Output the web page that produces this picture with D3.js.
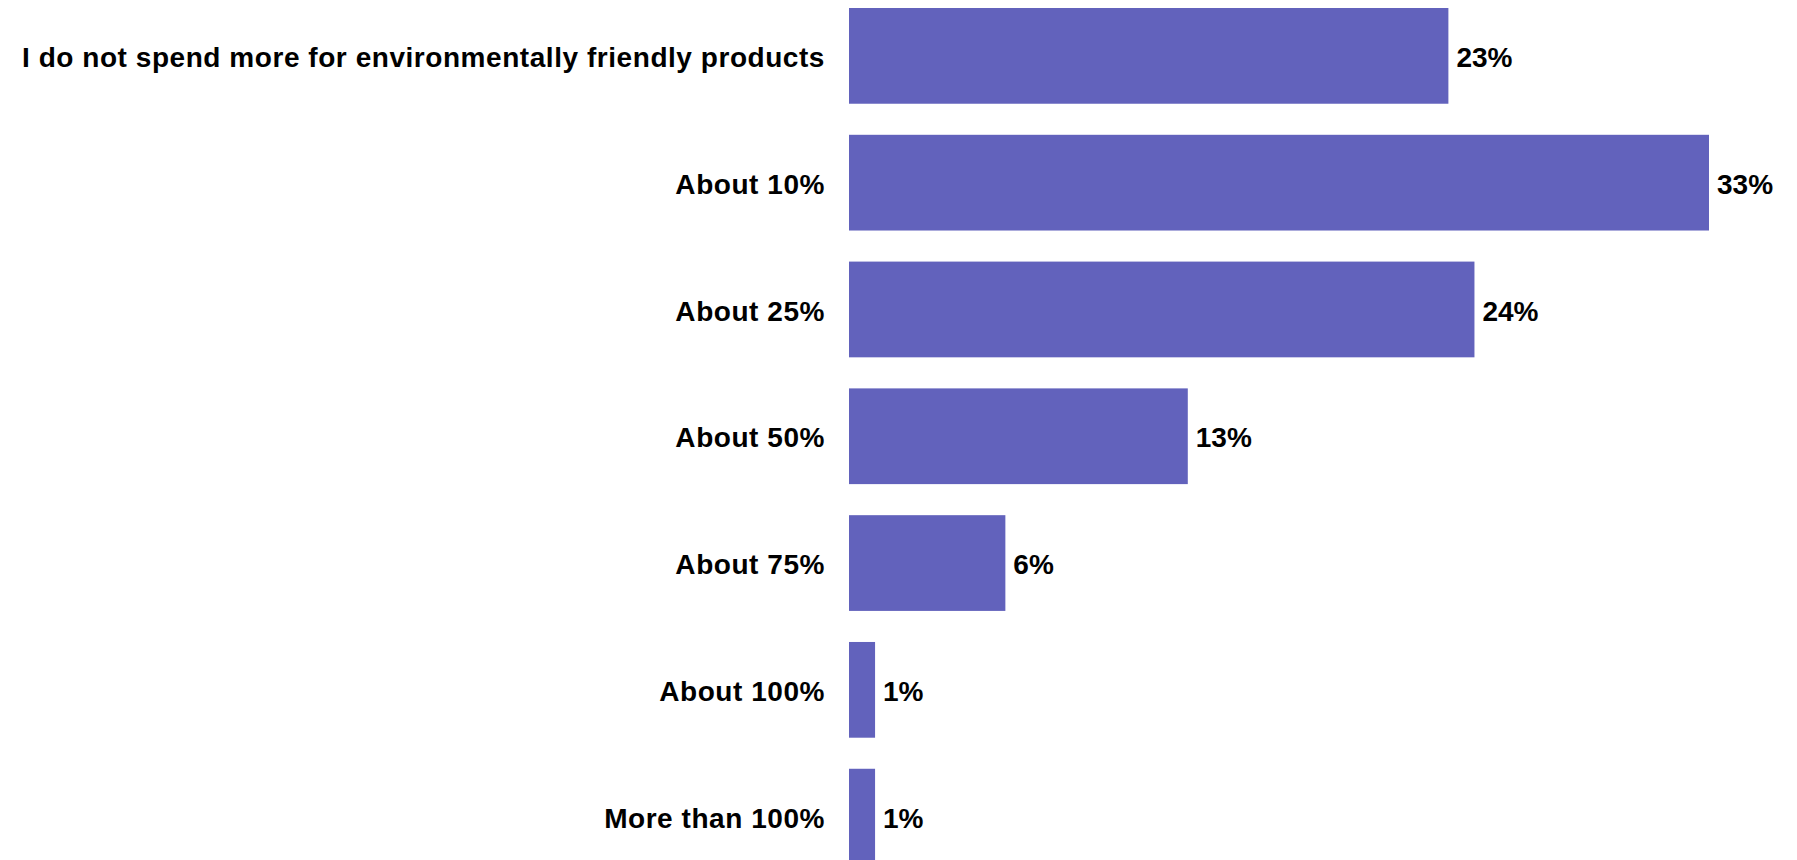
<!DOCTYPE html>
<html>
<head>
<meta charset="utf-8">
<script src="https://cdn.jsdelivr.net/npm/d3@7"></script>
<style>
  html, body { margin: 0; padding: 0; background: #fff; overflow: hidden; }
  svg { display: block; }
  text { font-family: "Liberation Sans", Arial, sans-serif; font-weight: bold; fill: #000; }
</style>
</head>
<body>
<svg id="chart" width="1797" height="860"></svg>
<script>
// Share of respondents by how much more they spend on environmentally friendly products
const categories = [
  "I do not spend more for environmentally friendly products",
  "About 10%",
  "About 25%",
  "About 50%",
  "About 75%",
  "About 100%",
  "More than 100%"
];
const values = [23, 33, 24, 13, 6, 1, 1];

const svg = d3.select("#chart");
const barLeft = 849;

const x = d3.scaleLinear().domain([0, 33]).range([barLeft, 1709]);
const y = d3.scaleBand()
  .domain(categories)
  .range([8, 864.5])
  .paddingInner(0.245)
  .paddingOuter(0);

const rows = svg.selectAll("g.row")
  .data(categories.map((c, i) => ({ c, v: values[i] })))
  .join("g")
  .attr("class", "row");

rows.append("rect")
  .attr("x", x(0))
  .attr("y", d => y(d.c))
  .attr("width", d => x(d.v) - x(0))
  .attr("height", y.bandwidth())
  .attr("fill", "#6262bc");

rows.append("text")
  .attr("x", d => x(d.v) + 8)
  .attr("y", d => y(d.c) + y.bandwidth() / 2)
  .attr("dy", "0.4em")
  .attr("font-size", 28)
  .text(d => d.v + "%");

// Category axis on the left, no line or ticks
const axis = svg.append("g")
  .attr("transform", `translate(${barLeft},0)`)
  .call(d3.axisLeft(y).tickSize(0).tickPadding(24));
axis.select(".domain").remove();
axis.selectAll("text")
  .attr("dy", "0.4em")
  .attr("font-size", 28)
  .attr("letter-spacing", "0.55px")
  .attr("font-family", "Liberation Sans, Arial, sans-serif")
  .attr("font-weight", "bold")
  .attr("fill", "#000");
</script>
</body>
</html>
